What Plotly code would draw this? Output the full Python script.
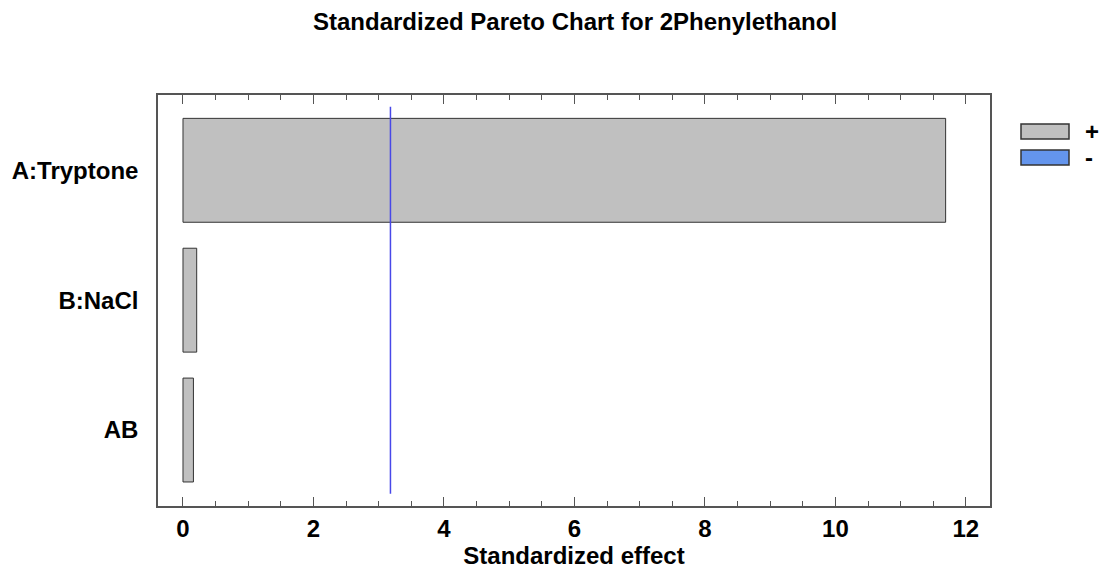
import plotly.graph_objects as go

# Effects, listed from largest to smallest
factors = ["A:Tryptone", "B:NaCl", "AB"]
effects = [11.69, 0.21, 0.16]
critical_t = 3.18
x_ticks = [0, 2, 4, 6, 8, 10, 12]

legend_labels = ["+", "-"]
legend_colors = ["#C0C0C0", "#6495ED"]

font_family = "Liberation Sans, Arial, sans-serif"
axis_color = "#555555"
positions = list(range(len(factors)))

fig = go.Figure()

fig.add_trace(go.Bar(
    x=effects,
    y=positions,
    orientation="h",
    width=0.8,
    marker=dict(color="#C0C0C0", line=dict(color="#333333", width=1)),
    showlegend=False,
    customdata=factors,
    hovertemplate="%{customdata}: %{x}<extra></extra>",
))

# Reference line at the critical t value
fig.add_trace(go.Scatter(
    x=[critical_t, critical_t],
    y=[positions[0] - 0.49, positions[-1] + 0.49],
    mode="lines",
    line=dict(color="#4848E8", width=1.5),
    showlegend=False,
    hoverinfo="skip",
))

fig.update_layout(
    width=1102,
    height=570,
    margin=dict(l=158, r=112, t=95, b=64),
    plot_bgcolor="white",
    paper_bgcolor="white",
    font=dict(family=font_family, color="black"),
    title=dict(
        text="<b>Standardized Pareto Chart for 2Phenylethanol</b>",
        x=0.5218, xanchor="center", y=1 - 22 / 570, yanchor="middle",
        font=dict(size=24, family=font_family),
    ),
)

fig.update_xaxes(
    range=[-0.383, 12.37],
    tickvals=x_ticks,
    ticktext=[f"<b>{v}</b>" for v in x_ticks],
    tickfont=dict(size=24),
    ticks="inside",
    ticklen=9,
    tickcolor=axis_color,
    minor=dict(dtick=0.5, ticks="inside", ticklen=5, tickcolor=axis_color),
    showline=True,
    linecolor=axis_color,
    linewidth=1.5,
    mirror="ticks",
    showgrid=False,
    zeroline=False,
    automargin=False,
    title=dict(text="<b>Standardized effect</b>", font=dict(size=24), standoff=2),
)

fig.update_yaxes(
    range=[positions[-1] + 0.585, positions[0] - 0.58],
    tickvals=positions,
    ticktext=[f"<b>{f}</b>" for f in factors],
    tickfont=dict(size=24),
    ticks="",
    ticklabelstandoff=13,
    showline=True,
    linecolor=axis_color,
    linewidth=1.5,
    mirror=True,
    showgrid=False,
    zeroline=False,
    automargin=False,
)

# Legend: swatches with sign labels at the right of the plot
legend_top = [124, 150]
for i, (lab, col) in enumerate(zip(legend_labels, legend_colors)):
    y0 = 1 - (legend_top[i] - 95) / 411
    y1 = 1 - (legend_top[i] + 15 - 95) / 411
    fig.add_shape(
        type="rect", xref="paper", yref="paper",
        x0=(1021 - 158) / 832, x1=(1069 - 158) / 832,
        y0=y0, y1=y1,
        fillcolor=col, line=dict(color="#333333", width=1.5),
    )
    fig.add_annotation(
        xref="paper", yref="paper",
        x=(1083 - 158) / 832, y=(y0 + y1) / 2,
        text=f"<b>{lab}</b>", showarrow=False,
        xanchor="left", yanchor="middle",
        font=dict(size=24),
    )

fig.write_html("out.html")
